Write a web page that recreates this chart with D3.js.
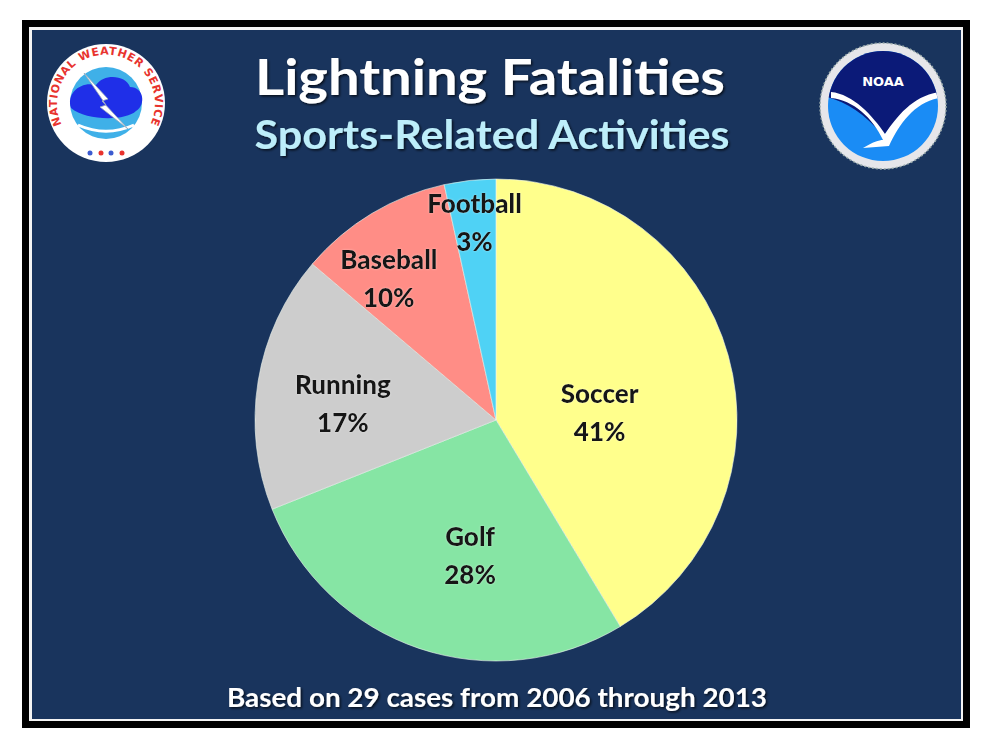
<!DOCTYPE html>
<html><head><meta charset="utf-8">
<script src="https://cdn.jsdelivr.net/npm/d3@7/dist/d3.min.js"></script>
<style>html,body{margin:0;padding:0;background:#fff;}svg{display:block;}</style>
</head><body>
<svg id="c" width="1000" height="748"></svg>
<script>
// ---- data ----
const categories = ["Soccer", "Golf", "Running", "Baseball", "Football"];
const caseCounts = [12, 8, 5, 3, 1];           // 29 cases total
const sliceColors = ["#ffff8c", "#86e5a4", "#cdcdcd", "#ff8d86", "#4fd2f5"];
const titleText = "Lightning Fatalities";
const subtitleText = "Sports-Related Activities";
const footerText = "Based on 29 cases from 2006 through 2013";

// label placement (layout only): [distance from centre px, angle shift deg]
const labelLayout = [[104, 11], [137, -7.7], [154, -3], [178, -6], [199, 0]];

const svg = d3.select("#c");
const font = "Lato, 'Open Sans', sans-serif";

// frame
svg.append("rect").attr("x",22).attr("y",20).attr("width",948).attr("height",708).attr("fill","#000");
svg.append("rect").attr("x",29).attr("y",27).attr("width",934).attr("height",694).attr("fill","#f4f4f4");
svg.append("rect").attr("x",32).attr("y",30).attr("width",929).attr("height",689).attr("fill","#19345d");

const defs = svg.append("defs");
const sh = defs.append("filter").attr("id","sh").attr("x","-10%").attr("y","-20%").attr("width","120%").attr("height","140%");
sh.append("feDropShadow").attr("dx",1.5).attr("dy",1.5).attr("stdDeviation",1).attr("flood-color","#000").attr("flood-opacity",0.7);
const gl = defs.append("filter").attr("id","gl").attr("x","-10%").attr("y","-20%").attr("width","120%").attr("height","140%");
gl.append("feDropShadow").attr("dx",0).attr("dy",0).attr("stdDeviation",1).attr("flood-color","#fff").attr("flood-opacity",0.4);

// titles
svg.append("text").attr("x",490).attr("y",95).attr("text-anchor","middle")
  .attr("font-family",font).attr("font-weight",700).attr("font-size",50)
  .attr("textLength",470).attr("lengthAdjust","spacingAndGlyphs")
  .attr("fill","#fff").attr("filter","url(#sh)").text(titleText);
svg.append("text").attr("x",492).attr("y",149).attr("text-anchor","middle")
  .attr("font-family",font).attr("font-weight",700).attr("font-size",40)
  .attr("textLength",475).attr("lengthAdjust","spacingAndGlyphs")
  .attr("fill","#bdeefa").attr("filter","url(#sh)").text(subtitleText);
svg.append("text").attr("x",497).attr("y",707).attr("text-anchor","middle")
  .attr("font-family",font).attr("font-weight",700).attr("font-size",27)
  .attr("textLength",540).attr("lengthAdjust","spacingAndGlyphs")
  .attr("fill","#fff").attr("filter","url(#sh)").text(footerText);

// pie
const cx = 496, cy = 420, R = 241;
const total = d3.sum(caseCounts);
const pie = d3.pie().sort(null).value(d => d)(caseCounts);
const arc = d3.arc().innerRadius(0).outerRadius(R);
const g = svg.append("g").attr("transform",`translate(${cx},${cy})`);
g.selectAll("path.slice").data(pie).join("path").attr("class","slice")
  .attr("d",arc).attr("fill",(d,i)=>sliceColors[i])
  .attr("stroke","#eef6ee").attr("stroke-width",1).attr("stroke-opacity",0.6);

const lab = g.selectAll("g.lab").data(pie).join("g").attr("class","lab")
  .attr("transform",(d,i)=>{
    const a = (d.startAngle+d.endAngle)/2 + labelLayout[i][1]*Math.PI/180;
    const r = labelLayout[i][0];
    return `translate(${r*Math.sin(a)},${-r*Math.cos(a)})`;
  });
lab.append("text").attr("text-anchor","middle").attr("y",-9)
  .attr("font-family",font).attr("font-weight",900).attr("font-size",26)
  .attr("fill","#151515").attr("filter","url(#gl)")
  .text((d,i)=>categories[i]);
lab.append("text").attr("text-anchor","middle").attr("y",29)
  .attr("font-family",font).attr("font-weight",900).attr("font-size",26)
  .attr("fill","#151515").attr("filter","url(#gl)")
  .text(d=>Math.round(d.value/total*100)+"%");

// NWS logo (decorative)
const nws = svg.append("g").attr("transform","translate(106,103)");
nws.append("circle").attr("r",59).attr("fill","#fff");
defs.append("path").attr("id","nwsArc").attr("d","M -28.5 40.5 A 49 49 0 1 1 28.5 40.5");
nws.append("text").attr("font-family","'DejaVu Sans', sans-serif").attr("font-weight",700).attr("font-size",11)
  .attr("letter-spacing",0.6).attr("fill","#e8332e").append("textPath").attr("href","#nwsArc").attr("startOffset","50%").attr("text-anchor","middle")
  .text("NATIONAL WEATHER SERVICE");
[-16,-5,5,16].forEach((x,i)=>nws.append("circle").attr("cx",x).attr("cy",50).attr("r",2.5).attr("fill",i%2?"#e8332e":"#3c5bd0"));
nws.append("circle").attr("r",40).attr("fill","#fff").attr("stroke","#fff");
nws.append("circle").attr("r",36).attr("fill","#3fb0e8");
nws.append("path").attr("d","M-35 5 C-40 -10 -25 -22 -10 -18 C-2 -30 20 -28 24 -16 C38 -16 40 2 30 8 C20 18 -20 18 -35 5 Z").attr("fill","#1f2fe8");
nws.append("path").attr("d","M-28 22 C-10 30 10 30 28 22").attr("fill","none").attr("stroke","#fff").attr("stroke-width",3);
nws.append("path").attr("d","M-22 -30 L2 -4 L-4 -2 L22 26 L-6 4 L0 2 Z").attr("fill","#fff").attr("stroke","#9ab").attr("stroke-width",0.8);

// NOAA logo (decorative)
const noaa = svg.append("g").attr("transform","translate(883,106)");
noaa.append("circle").attr("r",63).attr("fill","#e6e6ea");
noaa.append("circle").attr("r",63).attr("fill","none").attr("stroke","#9aa").attr("stroke-width",1.5).attr("stroke-dasharray","2 2");
noaa.append("circle").attr("r",55).attr("fill","#1a8cf5");
defs.append("clipPath").attr("id","nc").append("circle").attr("r",55);
noaa.append("path").attr("clip-path","url(#nc)")
  .attr("d","M-60 -60 L60 -60 L60 -10 C40 -5 20 5 0 30 C-20 5 -40 -5 -60 -10 Z").attr("fill","#0b1a78");
noaa.append("path").attr("clip-path","url(#nc)")
  .attr("d","M-52 -14 C-30 -12 -10 10 2 28 C14 10 30 -10 56 -14 L56 -8 C32 -4 16 18 6 40 L-20 42 C-10 36 -4 34 0 34 C-10 12 -30 -6 -52 -8 Z").attr("fill","#fff");
noaa.append("text").attr("y",-20).attr("text-anchor","middle").attr("font-family","'DejaVu Sans', sans-serif")
  .attr("font-weight",700).attr("font-size",13).attr("fill","#fff").text("NOAA");
</script>
</body></html>
